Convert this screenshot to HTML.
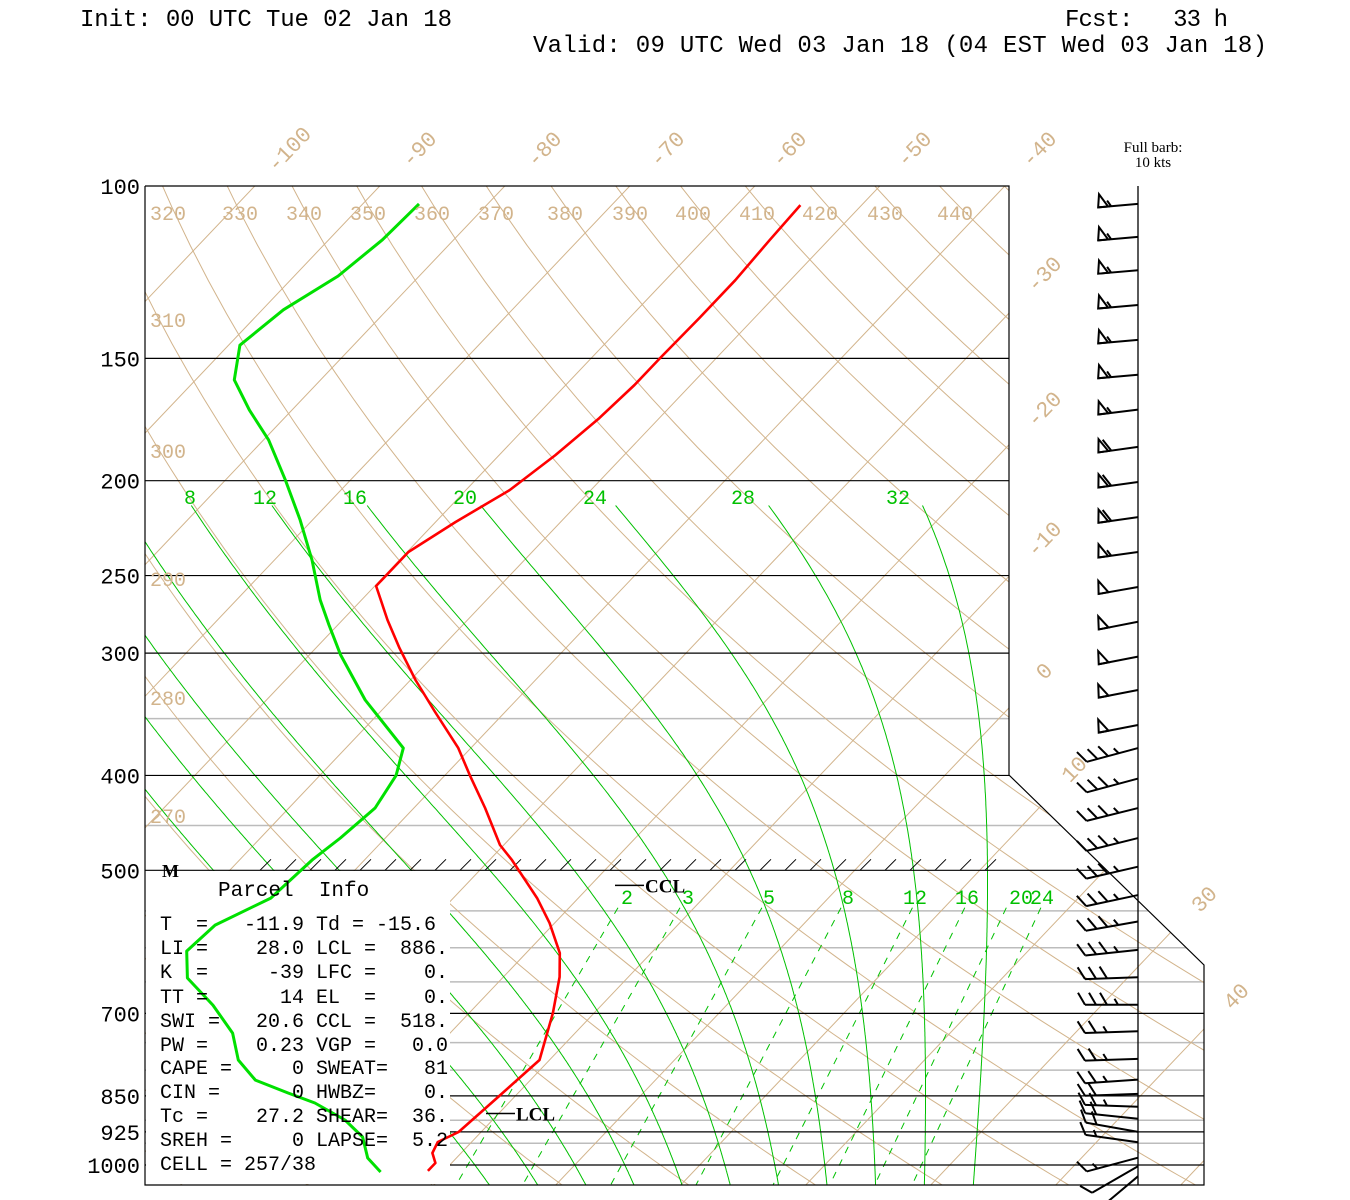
<!DOCTYPE html>
<html><head><meta charset="utf-8"><title>Skew-T Sounding</title>
<style>
html,body{margin:0;padding:0;background:#fff;}
svg{display:block;}
.mono{font-family:"Liberation Mono",monospace;}
.serif{font-family:"Liberation Serif",serif;}
</style></head>
<body>
<svg id="chart" xmlns="http://www.w3.org/2000/svg" width="1350" height="1200" viewBox="0 0 1350 1200">
<rect x="0" y="0" width="1350" height="1200" fill="#fff"/>
<defs>
<clipPath id="plotclip"><polygon points="145,186 1009,186 1009,775 1204,965 1204,1185 145,1185"/></clipPath>
</defs>
<g id="bg" clip-path="url(#plotclip)"></g>
<g id="plines" clip-path="url(#plotclip)"></g>
<rect x="146" y="871" width="304" height="313" fill="#fff"/>
<polyline points="145,186 1009,186 1009,775 1204,965 1204,1185 145,1185 145,186" fill="none" stroke="#000" stroke-width="1.2"/>
<g id="hatch"></g>
<g id="barbs"></g>
<g id="profiles"></g>
<g id="labels"></g>

<text class="mono" x="80" y="26" font-size="24" fill="#000" xml:space="preserve" textLength="372" lengthAdjust="spacing">Init: 00 UTC Tue 02 Jan 18</text>
<text class="mono" x="1065" y="26" font-size="24" fill="#000" xml:space="preserve" textLength="163" lengthAdjust="spacing">Fcst:   33 h</text>
<text class="mono" x="533" y="52" font-size="24" fill="#000" xml:space="preserve" textLength="734" lengthAdjust="spacing">Valid: 09 UTC Wed 03 Jan 18 (04 EST Wed 03 Jan 18)</text>
<text class="serif" x="1153" y="152" font-size="15" text-anchor="middle" fill="#000">Full barb:</text>
<text class="serif" x="1153" y="167" font-size="15" text-anchor="middle" fill="#000">10 kts</text>

<text class="serif" x="162" y="877" font-size="18" font-weight="bold" fill="#000">M</text>
<text class="mono" x="218" y="896" font-size="21" fill="#000" xml:space="preserve">Parcel  Info</text>
<g class="mono" font-size="20" fill="#000">
<text x="160" y="930" xml:space="preserve">T  =   -11.9 Td = -15.6</text>
<text x="160" y="954" xml:space="preserve">LI =    28.0 LCL =  886.</text>
<text x="160" y="978" xml:space="preserve">K  =     -39 LFC =    0.</text>
<text x="160" y="1003" xml:space="preserve">TT =      14 EL  =    0.</text>
<text x="160" y="1027" xml:space="preserve">SWI =   20.6 CCL =  518.</text>
<text x="160" y="1051" xml:space="preserve">PW =    0.23 VGP =   0.0</text>
<text x="160" y="1074" xml:space="preserve">CAPE =     0 SWEAT=   81</text>
<text x="160" y="1098" xml:space="preserve">CIN =      0 HWBZ=    0.</text>
<text x="160" y="1122" xml:space="preserve">Tc =    27.2 SHEAR=  36.</text>
<text x="160" y="1146" xml:space="preserve">SREH =     0 LAPSE=  5.2</text>
<text x="160" y="1170" xml:space="preserve">CELL = 257/38</text>
</g>
</svg>
<script>
// ---- data ----
const tempP = [104.6,113.5,124.8,136.4,150,159.7,172.6,188.3,204.4,220.4,236.5,256.2,277.5,296.5,319.6,344.6,375.1,400,431.9,471.1,488.1,533.8,566.1,607.5,642.7,699.5,781.1,852.1,925.3,947.4,972.1,995.4,1014];
const tempT = [-54.9,-54.7,-54.4,-54.4,-54.5,-54.5,-54.8,-55.5,-56.5,-58.4,-59.9,-59.9,-56.4,-53.3,-49.6,-45.6,-41.0,-38.0,-34.3,-30.3,-28.2,-23.3,-20.4,-17.3,-15.5,-13.3,-10.8,-11.3,-11.8,-12.7,-12.3,-11.3,-11.3];
const dewP = [104.3,113.5,123.6,133.8,145.4,157.8,169.4,181.7,199.7,219.3,241,264.8,280.8,301.3,335,375.1,400,431.9,463.4,488.1,533.8,568.8,604.6,644.2,686.5,733.2,781.1,818.9,844.3,864.4,899.5,936.3,983.6,1016.7];
const dewT = [-85.5,-85.7,-86.5,-88.3,-89.1,-86.9,-83.4,-79.6,-75.2,-71,-67,-63.3,-60.7,-57.5,-52.1,-45.4,-43.9,-43.1,-43.6,-44.2,-44.6,-47.0,-47.3,-45.2,-41.1,-37.4,-34.9,-32.0,-28.4,-25.5,-21.8,-19.1,-17.1,-15.0];
const barbP = [104.3,112.7,121.9,132.3,143.6,155.9,169.2,184.7,200.6,217.9,236.5,256.8,278.7,302.5,327.2,355.3,375.1,403,431.9,463.5,495.8,530,564,603,643,686,730,779,818,846,872,897,925,948,983,1003,1027];
const barbDir = [265,265,265,265,265,265,263,262,262,262,262,260,259,259,259,259,255,255,256,256,257,258,260,264,268,270,268,268,266,268,272,276,280,278,255,240,230];
const barbSpd = [55,55,55,55,55,55,55,60,60,60,55,50,50,50,50,50,35,35,35,35,35,35,35,35,30,35,25,25,25,20,25,20,20,15,15,10,10];
const lclP = 886;
const cclP = 518;
const pressLabels = [100,150,200,250,300,400,500,700,850,925,1000];
const blackLevels = [150,200,250,300,400,500,700,850,925,1000];
const greyLevels = [350,450,550,600,650,750,800,900,950];
const mixRatios = [2,3,5,8,12,16,20,24];
const moistThetaW = [-8,-4,0,4,8,12,16,20,24,28,32];

// ---- axes ----
const NS = 'http://www.w3.org/2000/svg';
function yP(p){ return 186 + 979*Math.log10(p/100); }
function xT(T,p){ return 1539 + 12.5*T - 0.95*(yP(p)-150); }
function mk(tag, attrs, parent){
  const e = document.createElementNS(NS, tag);
  for (const k in attrs) e.setAttribute(k, attrs[k]);
  parent.appendChild(e); return e;
}
const bg = document.getElementById('bg');
const pl = document.getElementById('plines');
const TAN = '#d2b48c', GRN = '#00c000', GREY = '#bcbcbc';

greyLevels.forEach(p => {
  const l = mk('line', {x1:145, x2:1204, y1:yP(p), y2:yP(p), stroke:GREY, 'stroke-width':1.5}, bg);
  
  
});
for (let T = -160; T <= 60; T += 10) {
  const l = mk('line', {x1:xT(T,95), y1:yP(95), x2:xT(T,1060), y2:yP(1060), stroke:TAN, 'stroke-width':1}, bg);
  
  
}
for (let th = 230; th <= 470; th += 10) {
  let pts = [];
  for (let p = 95; p <= 1060; p += 10) { const T = th*Math.pow(p/1000,0.2857)-273.15; pts.push(xT(T,p).toFixed(1)+','+yP(p).toFixed(1)); }
  const l = mk('polyline', {points:pts.join(' '), fill:'none', stroke:TAN, 'stroke-width':1}, bg);
  
  
}
function dTdp(T,p){ const Tk=T+273.15; const es=6.112*Math.exp(17.67*T/(T+243.5)); const rs=0.622*es/(p-es);
  return (287*Tk + 2.5e6*rs)/(p*(1004 + 2.5e6*2.5e6*rs*0.622/(287*Tk*Tk))); }
moistThetaW.forEach(tw => {
  let T = tw, p = 1000;
  while (p < 1050) { T += dTdp(T,p)*1; p += 1; }
  let pts = [];
  while (p >= 212) { pts.push(xT(T,p).toFixed(1)+','+yP(p).toFixed(1)); T -= dTdp(T,p)*2; p -= 2; }
  const l = mk('polyline', {points:pts.join(' '), fill:'none', stroke:GRN, 'stroke-width':1}, bg);
  
  
});
function tMix(w,p){ const e=w*p/(622+w); const a=Math.log(e/6.112); return 243.5*a/(17.67-a); }
mixRatios.forEach(w => {
  const p1 = 546, p2 = 1050;
  const l = mk('line', {x1:xT(tMix(w,p1),p1), y1:yP(p1), x2:xT(tMix(w,p2),p2), y2:yP(p2), stroke:GRN, 'stroke-width':1, 'stroke-dasharray':'7,7'}, bg);
  
  
});
blackLevels.forEach(p => {
  const l = mk('line', {x1:145, x2:1204, y1:yP(p), y2:yP(p), stroke:'#000', 'stroke-width':1.2}, pl);
  
  
});

const hg = document.getElementById('hatch');
for (let x = 260; x <= 1000; x += 25) {
  const h = mk('line', {x1:x, y1:yP(500), x2:x+11, y2:yP(500)-11, stroke:'#000', 'stroke-width':1}, hg);
  
  
}

const bgg = document.getElementById('barbs');
const staff = mk('line', {x1:1138, y1:186, x2:1138, y2:1185, stroke:'#000', 'stroke-width':1.3}, bgg);


barbP.forEach((p,i) => {
  const d = barbDir[i]*Math.PI/180, spd = barbSpd[i];
  const ux = Math.sin(d), uy = -Math.cos(d);
  const px = -uy, py = ux;
  const bx = 1138, by = yP(p);
  const L = spd >= 50 ? 40 : 53;
  const ex = bx + ux*L, ey = by + uy*L;
  const g = mk('g', {stroke:'#000', 'stroke-width':2, fill:'none'}, bgg);
  
  
  mk('line', {x1:bx, y1:by, x2:ex, y2:ey}, g);
  let s = spd, pos = 0;
  while (s >= 50) {
    const ax = ex - ux*pos, ay = ey - uy*pos;
    mk('polygon', {points:`${ax},${ay} ${ax-ux*10},${ay-uy*10} ${ax-ux*2+px*13},${ay-uy*2+py*13}`, fill:'none'}, g);
    pos += 13; s -= 50;
  }
  while (s >= 10) {
    const ax = ex - ux*pos, ay = ey - uy*pos;
    mk('line', {x1:ax, y1:ay, x2:ax+px*12+ux*7, y2:ay+py*12+uy*7}, g);
    pos += 11; s -= 10;
  }
  if (s >= 5) {
    const ax = ex - ux*Math.max(pos,4), ay = ey - uy*Math.max(pos,4);
    mk('line', {x1:ax, y1:ay, x2:ax+px*6+ux*3.5, y2:ay+py*6+uy*3.5}, g);
  }
});

const prof = document.getElementById('profiles');
function path(P,T){ return P.map((p,i)=> xT(T[i],p).toFixed(1)+','+yP(p).toFixed(1)).join(' '); }
const dewLine = mk('polyline', {points:path(dewP,dewT), fill:'none', stroke:'#00e000', 'stroke-width':3, 'stroke-linejoin':'round'}, prof);


const tLine = mk('polyline', {points:path(tempP,tempT), fill:'none', stroke:'#ff0000', 'stroke-width':2.6, 'stroke-linejoin':'round'}, prof);



const lab = document.getElementById('labels');
function marker(p, x, txt, nm){
  const y = yP(p);
  const l = mk('line', {x1:x, y1:y, x2:x+29, y2:y, stroke:'#000', 'stroke-width':1.5}, lab);
  
  
  const t = mk('text', {x:x+30, y:y+7, 'font-family':'"Liberation Serif",serif', 'font-size':19, 'font-weight':'bold', fill:'#000'}, lab);
  t.textContent = txt;
  
  
}
marker(lclP, 486, 'LCL', 'lcl');
marker(cclP, 615, 'CCL', 'ccl');

pressLabels.forEach(p => {
  const t = mk('text', {x:140, y:yP(p)+8, 'text-anchor':'end', 'font-family':'"Liberation Mono",monospace', 'font-size':22, fill:'#000'}, lab);
  t.textContent = String(p);
  
  
});

const isoLab = [['-100',290,150],['-90',420,150],['-80',545,150],['-70',668,150],['-60',790,150],['-50',915,150],['-40',1040,150],['-30',1045,275],['-20',1045,410],['-10',1045,540],['0',1045,672],['10',1075,770],['30',1205,900],['40',1237,997]];
isoLab.forEach(a => {
  const t = mk('text', {x:a[1], y:a[2], 'text-anchor':'middle', 'dominant-baseline':'middle', transform:`rotate(-46 ${a[1]} ${a[2]})`, 'font-family':'"Liberation Mono",monospace', 'font-size':22, fill:TAN}, lab);
  t.textContent = a[0];
  
  
});
const thLab = [['320',168,213],['330',240,213],['340',304,213],['350',368,213],['360',432,213],['370',496,213],['380',565,213],['390',630,213],['400',693,213],['410',757,213],['420',820,213],['430',885,213],['440',955,213],['310',168,320],['300',168,451],['290',168,579],['280',168,698],['270',168,816]];
thLab.forEach(a => {
  const t = mk('text', {x:a[1], y:a[2]+7, 'text-anchor':'middle', 'font-family':'"Liberation Mono",monospace', 'font-size':20, fill:TAN}, lab);
  t.textContent = a[0];
  
  
});
const mLab = [['8',190],['12',265],['16',355],['20',465],['24',595],['28',743],['32',898]];
mLab.forEach(a => {
  const t = mk('text', {x:a[1], y:504, 'text-anchor':'middle', 'font-family':'"Liberation Mono",monospace', 'font-size':20, fill:GRN}, lab);
  t.textContent = a[0];
  
  
});
const wLab = [['2',627],['3',688],['5',769],['8',848],['12',915],['16',967],['20',1021],['24',1042]];
wLab.forEach(a => {
  const t = mk('text', {x:a[1], y:904, 'text-anchor':'middle', 'font-family':'"Liberation Mono",monospace', 'font-size':20, fill:GRN}, lab);
  t.textContent = a[0];
  
  
});
</script>
</body></html>
